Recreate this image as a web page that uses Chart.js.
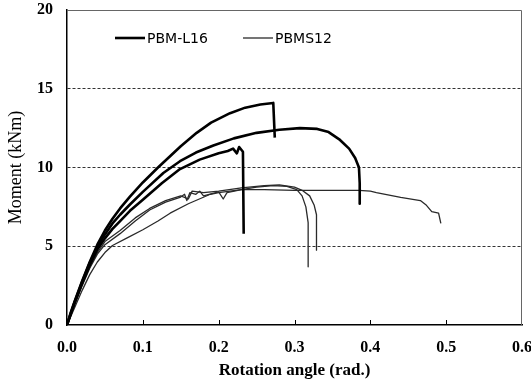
<!DOCTYPE html>
<html>
<head>
<meta charset="utf-8">
<script src="https://cdn.jsdelivr.net/npm/chart.js@4.4.1/dist/chart.umd.min.js"></script>
<style>
  html, body { margin: 0; padding: 0; background: #fff; }
  #wrap { width: 531px; height: 382px; }
</style>
</head>
<body>
<div id="wrap"><canvas id="chart"></canvas></div>
<script>
/* ============================
   DATI
============================ */

const xTicks = [0, 0.1, 0.2, 0.3, 0.4, 0.5, 0.6];
const yTicks = [0, 5, 10, 15, 20];
const legendLabels = ['PBM-L16', 'PBMS12'];

// PBM-L16 (linee spesse)
const l16aX = [0, 0.005, 0.01, 0.02, 0.03, 0.04, 0.05, 0.06, 0.07, 0.083, 0.1, 0.12, 0.15, 0.171, 0.19, 0.215, 0.235, 0.255, 0.272, 0.274];
const l16aY = [0, 0.8, 1.5, 2.8, 4.0, 5.1, 6.0, 6.75, 7.4, 8.15, 9.05, 10.0, 11.35, 12.2, 12.85, 13.45, 13.8, 14.0, 14.1, 11.9];

const l16bX = [0, 0.005, 0.01, 0.02, 0.03, 0.04, 0.05, 0.06, 0.07, 0.083, 0.1, 0.127, 0.149, 0.17, 0.193, 0.22, 0.25, 0.28, 0.307, 0.33, 0.345, 0.36, 0.372, 0.38, 0.385, 0.386, 0.386];
const l16bY = [0, 0.75, 1.45, 2.75, 3.95, 4.95, 5.75, 6.45, 7.0, 7.65, 8.45, 9.65, 10.4, 10.95, 11.4, 11.85, 12.2, 12.4, 12.5, 12.45, 12.25, 11.75, 11.2, 10.6, 10.0, 9.0, 7.7];

const l16cX = [0, 0.005, 0.01, 0.02, 0.03, 0.04, 0.05, 0.06, 0.07, 0.083, 0.1, 0.125, 0.149, 0.175, 0.2, 0.212, 0.219, 0.224, 0.227, 0.232, 0.233];
const l16cY = [0, 0.7, 1.4, 2.65, 3.8, 4.8, 5.5, 6.1, 6.6, 7.25, 7.95, 9.0, 9.9, 10.5, 10.9, 11.05, 11.2, 10.9, 11.3, 11.0, 5.8];

// PBMS12 (linee sottili)
const s12aX = [0, 0.01, 0.02, 0.03, 0.04, 0.05, 0.07, 0.09, 0.109, 0.13, 0.149, 0.155, 0.158, 0.162, 0.17, 0.175, 0.18, 0.2, 0.206, 0.211, 0.23, 0.25, 0.272, 0.29, 0.303, 0.31, 0.315, 0.318, 0.318];
const s12aY = [0, 1.3, 2.5, 3.6, 4.5, 5.1, 5.8, 6.6, 7.3, 7.8, 8.1, 8.3, 7.9, 8.4, 8.3, 8.5, 8.2, 8.45, 8.0, 8.4, 8.6, 8.75, 8.85, 8.8, 8.6, 8.2, 7.5, 6.5, 3.7];

const s12bX = [0, 0.01, 0.02, 0.03, 0.04, 0.05, 0.07, 0.09, 0.109, 0.13, 0.15, 0.16, 0.165, 0.18, 0.2, 0.23, 0.26, 0.28, 0.3, 0.31, 0.32, 0.326, 0.329, 0.329];
const s12bY = [0, 1.35, 2.6, 3.7, 4.6, 5.3, 6.0, 6.8, 7.4, 7.9, 8.2, 8.0, 8.5, 8.4, 8.5, 8.7, 8.85, 8.9, 8.75, 8.55, 8.2, 7.6, 7.0, 4.75];

const s12cX = [0, 0.01, 0.02, 0.03, 0.04, 0.05, 0.06, 0.08, 0.1, 0.12, 0.136, 0.16, 0.189, 0.2, 0.23, 0.26, 0.3, 0.35, 0.385, 0.4, 0.408, 0.44, 0.466, 0.474, 0.481, 0.49, 0.493];
const s12cY = [0, 1.1, 2.2, 3.2, 4.0, 4.6, 5.05, 5.55, 6.05, 6.6, 7.1, 7.7, 8.3, 8.4, 8.6, 8.6, 8.55, 8.55, 8.55, 8.5, 8.4, 8.1, 7.9, 7.6, 7.2, 7.1, 6.45];

/* ============================
   DATASET
============================ */

function punti(xs, ys) {
  return xs.map((x, i) => ({ x, y: ys[i] }));
}

const spesso = { borderColor: '#000', borderWidth: 2.6 };
const sottile = { borderColor: '#2a2a2a', borderWidth: 1.3 };

const serie = [
  [l16aX, l16aY, spesso],
  [l16bX, l16bY, spesso],
  [l16cX, l16cY, spesso],
  [s12aX, s12aY, sottile],
  [s12bX, s12bY, sottile],
  [s12cX, s12cY, sottile]
];

const datasets = serie.map(([xs, ys, st]) => ({
  data: punti(xs, ys),
  showLine: true,
  pointRadius: 0,
  tension: 0,
  fill: false,
  borderColor: st.borderColor,
  borderWidth: st.borderWidth,
  borderJoinStyle: 'round'
}));

/* ============================
   PLUGIN: cornice, tacche, legenda
============================ */

const extra = {
  id: 'extra',
  beforeDatasetsDraw(chart) {
    const { ctx, chartArea: a, scales } = chart;
    ctx.save();
    // cornice sopra/destra
    ctx.strokeStyle = '#666';
    ctx.lineWidth = 1;
    ctx.beginPath();
    ctx.moveTo(a.left, a.top + 0.5);
    ctx.lineTo(a.right - 0.5, a.top + 0.5);
    ctx.lineTo(a.right - 0.5, a.bottom);
    ctx.stroke();
    // tacche interne asse x
    ctx.strokeStyle = '#000';
    ctx.lineWidth = 1;
    scales.x.ticks.forEach(t => {
      if (t.value <= 0 || t.value >= 0.6) return;
      const px = Math.round(scales.x.getPixelForValue(t.value)) + 0.5;
      ctx.beginPath();
      ctx.moveTo(px, a.bottom);
      ctx.lineTo(px, a.bottom - 5);
      ctx.stroke();
    });
    ctx.restore();
  },
  afterDraw(chart) {
    const { ctx, chartArea: a } = chart;
    ctx.save();
    ctx.font = '14px "DejaVu Sans"';
    ctx.fillStyle = '#000';
    ctx.textBaseline = 'middle';
    const y = a.top + 28;
    const voci = [
      { x: a.left + 48, w: spesso.borderWidth, c: spesso.borderColor, t: legendLabels[0] },
      { x: a.left + 176, w: sottile.borderWidth, c: sottile.borderColor, t: legendLabels[1] }
    ];
    voci.forEach(v => {
      ctx.strokeStyle = v.c;
      ctx.lineWidth = v.w;
      ctx.beginPath();
      ctx.moveTo(v.x, y);
      ctx.lineTo(v.x + 30, y);
      ctx.stroke();
      ctx.fillText(v.t, v.x + 32, y + 1);
    });
    ctx.restore();
  }
};

/* ============================
   GRAFICO
============================ */

new Chart(document.getElementById('chart'), {
  type: 'scatter',
  data: { datasets },
  options: {
    responsive: true,
    maintainAspectRatio: false,
    animation: false,
    layout: { padding: { top: 10, right: 9, left: 0, bottom: 0 } },
    plugins: { legend: { display: false }, tooltip: { enabled: false } },
    scales: {
      x: {
        type: 'linear',
        min: 0,
        max: 0.6,
        afterBuildTicks: s => { s.ticks = xTicks.map(v => ({ value: v })); },
        afterFit: s => { s.height = 57; s.paddingLeft = 0; s.paddingRight = 0; },
        ticks: {
          padding: 13,
          color: '#000',
          font: { family: '"Liberation Serif"', size: 16, weight: 'bold' },
          callback: v => Number(v).toFixed(1)
        },
        grid: { display: false, drawTicks: false },
        border: { display: true, color: '#000', width: 1.5 },
        title: {
          display: true,
          text: 'Rotation angle (rad.)',
          color: '#000',
          font: { family: '"Liberation Serif"', size: 17, weight: 'bold' },
          padding: { top: 0, bottom: 1 }
        }
      },
      y: {
        type: 'linear',
        min: 0,
        max: 20,
        afterBuildTicks: s => { s.ticks = yTicks.map(v => ({ value: v })); },
        afterFit: s => { s.width = 67; s.paddingTop = 0; s.paddingBottom = 0; },
        ticks: {
          padding: 14,
          color: '#000',
          font: { family: '"Liberation Serif"', size: 16, weight: 'bold' }
        },
        grid: {
          drawTicks: false,
          color: c => (c.tick && c.tick.value > 0 && c.tick.value < 20) ? '#333' : 'rgba(0,0,0,0)',
          lineWidth: 1
        },
        border: { display: true, color: '#000', width: 1.5, dash: [3, 2] },
        title: {
          display: true,
          text: 'Moment (kNm)',
          color: '#000',
          font: { family: '"Liberation Serif"', size: 18 },
          padding: { top: 5, bottom: 0 }
        }
      }
    }
  },
  plugins: [extra]
});
</script>
</body>
</html>
